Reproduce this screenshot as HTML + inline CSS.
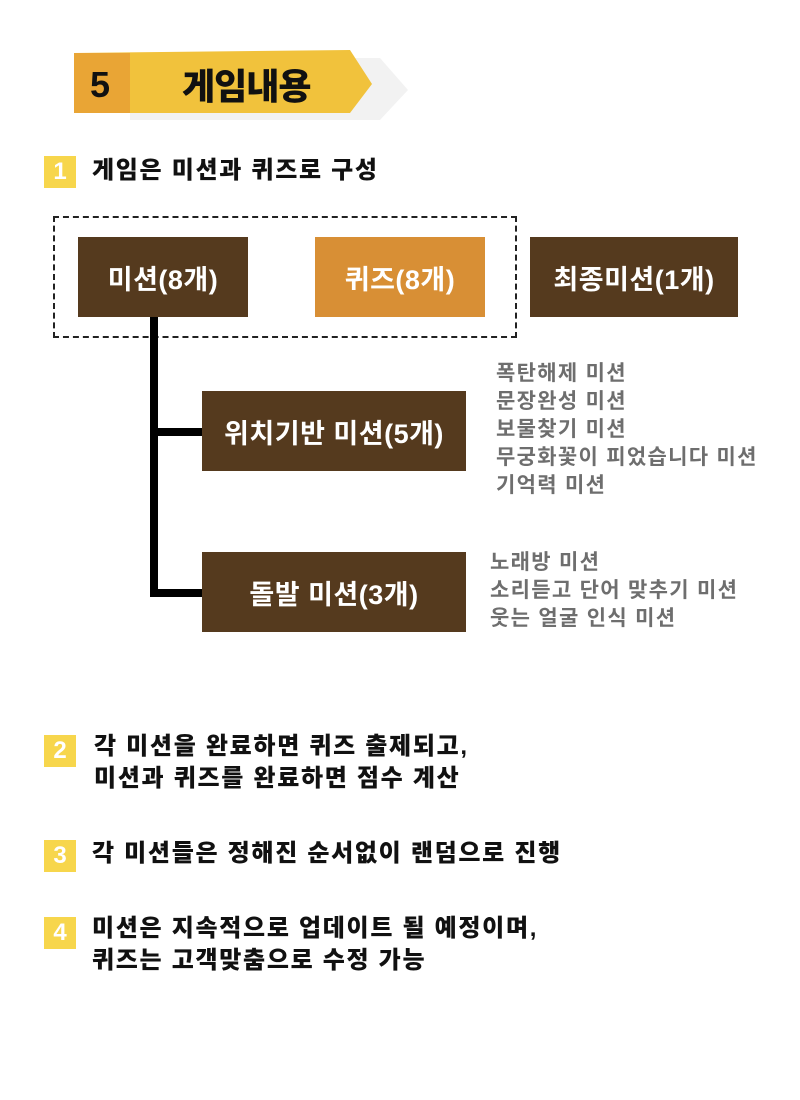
<!DOCTYPE html>
<html><head><meta charset="utf-8"><style>
body{margin:0;width:800px;height:1100px;background:#fff;position:relative;overflow:hidden;font-family:"Liberation Sans","Noto Sans CJK KR",sans-serif;}
.a{position:absolute;}
.badge{position:absolute;width:32px;height:32px;background:#f7d64c;color:#fff;font-weight:bold;font-size:24px;text-align:center;line-height:32px;}
.t{position:absolute;font-weight:900;font-size:24px;color:#111;line-height:32px;letter-spacing:1.7px;}
.box{position:absolute;color:#fff;font-weight:bold;font-size:27px;display:flex;align-items:center;justify-content:center;letter-spacing:0.5px;}
.g{position:absolute;color:#6e6e6e;font-size:21px;line-height:28px;font-weight:bold;letter-spacing:1.3px;}
</style></head><body>
<svg class="a" style="left:0;top:0" width="800" height="130">
<polygon points="130,58 380,58 408,90 380,120 130,120" fill="#f2f2f2"/>
<polygon points="74,53 350,50 372,84 350,113 74,113" fill="#f1c23c"/>
<rect x="74" y="53" width="56" height="60" fill="#e9a535"/>
</svg>
<div class="a" style="left:90px;top:64px;font-size:36px;font-weight:bold;color:#111">5</div>
<div class="a" style="left:182px;top:58px;font-size:36px;font-weight:900;color:#111;letter-spacing:-1px">게임내용</div>

<div class="badge" style="left:44px;top:156px">1</div>
<div class="t" style="left:92px;top:155px">게임은 미션과 퀴즈로 구성</div>

<div class="a" style="left:53px;top:216px;width:460px;height:118px;border:2px dashed #222;"></div>
<div class="box" style="left:78px;top:237px;width:170px;height:80px;background:#553a1e">미션(8개)</div>
<div class="box" style="left:315px;top:237px;width:170px;height:80px;background:#d88f35">퀴즈(8개)</div>
<div class="box" style="left:530px;top:237px;width:208px;height:80px;background:#553a1e">최종미션(1개)</div>

<div class="a" style="left:150px;top:317px;width:8px;height:280px;background:#000"></div>
<div class="a" style="left:150px;top:428px;width:52px;height:8px;background:#000"></div>
<div class="a" style="left:150px;top:589px;width:52px;height:8px;background:#000"></div>

<div class="box" style="left:202px;top:391px;width:264px;height:80px;background:#553a1e">위치기반 미션(5개)</div>
<div class="box" style="left:202px;top:552px;width:264px;height:80px;background:#553a1e">돌발 미션(3개)</div>

<div class="g" style="left:496px;top:360px">폭탄해제 미션<br>문장완성 미션<br>보물찾기 미션<br>무궁화꽃이 피었습니다 미션<br>기억력 미션</div>
<div class="g" style="left:490px;top:549px">노래방 미션<br>소리듣고 단어 맞추기 미션<br>웃는 얼굴 인식 미션</div>

<div class="badge" style="left:44px;top:735px">2</div>
<div class="t" style="left:94px;top:731px">각 미션을 완료하면 퀴즈 출제되고,<br>미션과 퀴즈를 완료하면 점수 계산</div>

<div class="badge" style="left:44px;top:840px">3</div>
<div class="t" style="left:92px;top:838px">각 미션들은 정해진 순서없이 랜덤으로 진행</div>

<div class="badge" style="left:44px;top:917px">4</div>
<div class="t" style="left:92px;top:913px">미션은 지속적으로 업데이트 될 예정이며,<br>퀴즈는 고객맞춤으로 수정 가능</div>
</body></html>
